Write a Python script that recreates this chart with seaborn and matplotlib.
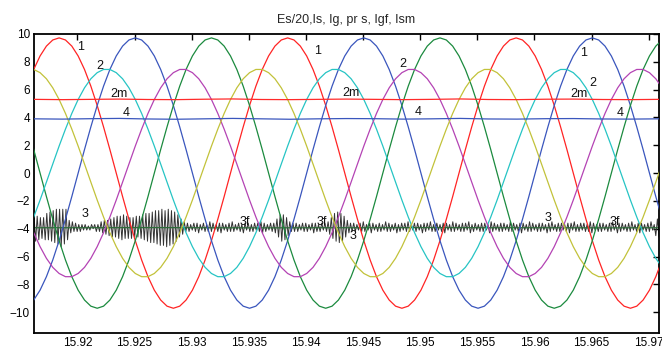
"""Three-phase waveforms with DC levels and a noisy component (MATLAB-style scope plot)."""

import matplotlib

matplotlib.use("Agg")
import matplotlib.pyplot as plt
import numpy as np
import pandas as pd
import seaborn as sns

# ---- data ------------------------------------------------------------------
title = "Es/20,Is, Ig, pr s, Igf, Ism"

# sinusoids are sampled every 10 degrees of a 50 Hz period
wave_t0 = 15.91562
wave_dt = 0.02 / 36

es_a = [6.25, 7.45, 8.42, 9.13, 9.57,
        9.72, 9.57, 9.13, 8.42, 7.45, 6.25, 4.86, 3.32, 1.69, 0.0, -1.69, -3.32, -4.86, -6.25, -7.45, -8.42, -9.13, -9.57,
        -9.72, -9.57, -9.13, -8.42, -7.45, -6.25, -4.86, -3.32, -1.69, 0.0, 1.69, 3.32, 4.86, 6.25, 7.45, 8.42, 9.13, 9.57,
        9.72, 9.57, 9.13, 8.42, 7.45, 6.25, 4.86, 3.32, 1.69, 0.0, -1.69, -3.32, -4.86, -6.25, -7.45, -8.42, -9.13, -9.57,
        -9.72, -9.57, -9.13, -8.42, -7.45, -6.25, -4.86, -3.32, -1.69, 0.0, 1.69, 3.32, 4.86, 6.25, 7.45, 8.42, 9.13, 9.57,
        9.72, 9.57, 9.13, 8.42, 7.45, 6.25, 4.86, 3.32, 1.69, 0.0, -1.69, -3.32, -4.86, -6.25, -7.45, -8.42, -9.13, -9.57,
        -9.72, -9.57, -9.13, -8.42, -7.45, -6.25]
es_b = [-9.57, -9.13, -8.42, -7.45, -6.25, -4.86, -3.32, -1.69, 0.0, 1.69, 3.32, 4.86, 6.25, 7.45, 8.42, 9.13, 9.57,
        9.72, 9.57, 9.13, 8.42, 7.45, 6.25, 4.86, 3.32, 1.69, 0.0, -1.69, -3.32, -4.86, -6.25, -7.45, -8.42, -9.13, -9.57,
        -9.72, -9.57, -9.13, -8.42, -7.45, -6.25, -4.86, -3.32, -1.69, 0.0, 1.69, 3.32, 4.86, 6.25, 7.45, 8.42, 9.13, 9.57,
        9.72, 9.57, 9.13, 8.42, 7.45, 6.25, 4.86, 3.32, 1.69, 0.0, -1.69, -3.32, -4.86, -6.25, -7.45, -8.42, -9.13, -9.57,
        -9.72, -9.57, -9.13, -8.42, -7.45, -6.25, -4.86, -3.32, -1.69, 0.0, 1.69, 3.32, 4.86, 6.25, 7.45, 8.42, 9.13, 9.57,
        9.72, 9.57, 9.13, 8.42, 7.45, 6.25, 4.86, 3.32, 1.69, 0.0, -1.69, -3.32]
es_c = [3.32, 1.69, 0.0, -1.69, -3.32, -4.86, -6.25, -7.45, -8.42, -9.13, -9.57,
        -9.72, -9.57, -9.13, -8.42, -7.45, -6.25, -4.86, -3.32, -1.69, 0.0, 1.69, 3.32, 4.86, 6.25, 7.45, 8.42, 9.13, 9.57,
        9.72, 9.57, 9.13, 8.42, 7.45, 6.25, 4.86, 3.32, 1.69, 0.0, -1.69, -3.32, -4.86, -6.25, -7.45, -8.42, -9.13, -9.57,
        -9.72, -9.57, -9.13, -8.42, -7.45, -6.25, -4.86, -3.32, -1.69, 0.0, 1.69, 3.32, 4.86, 6.25, 7.45, 8.42, 9.13, 9.57,
        9.72, 9.57, 9.13, 8.42, 7.45, 6.25, 4.86, 3.32, 1.69, 0.0, -1.69, -3.32, -4.86, -6.25, -7.45, -8.42, -9.13, -9.57,
        -9.72, -9.57, -9.13, -8.42, -7.45, -6.25, -4.86, -3.32, -1.69, 0.0, 1.69, 3.32, 4.86, 6.25, 7.45, 8.42, 9.13, 9.57]

is_a = [-4.29, -3.16, -1.94, -0.65, 0.65, 1.94, 3.16, 4.29, 5.29, 6.13, 6.78, 7.22, 7.45,
        7.45, 7.22, 6.78, 6.13, 5.29, 4.29, 3.16, 1.94, 0.65, -0.65, -1.94, -3.16, -4.29, -5.29, -6.13, -6.78, -7.22, -7.45,
        -7.45, -7.22, -6.78, -6.13, -5.29, -4.29, -3.16, -1.94, -0.65, 0.65, 1.94, 3.16, 4.29, 5.29, 6.13, 6.78, 7.22, 7.45,
        7.45, 7.22, 6.78, 6.13, 5.29, 4.29, 3.16, 1.94, 0.65, -0.65, -1.94, -3.16, -4.29, -5.29, -6.13, -6.78, -7.22, -7.45,
        -7.45, -7.22, -6.78, -6.13, -5.29, -4.29, -3.16, -1.94, -0.65, 0.65, 1.94, 3.16, 4.29, 5.29, 6.13, 6.78, 7.22, 7.45,
        7.45, 7.22, 6.78, 6.13, 5.29, 4.29, 3.16, 1.94, 0.65, -0.65, -1.94, -3.16, -4.29, -5.29, -6.13, -6.78]
is_b = [-3.16, -4.29, -5.29, -6.13, -6.78, -7.22, -7.45,
        -7.45, -7.22, -6.78, -6.13, -5.29, -4.29, -3.16, -1.94, -0.65, 0.65, 1.94, 3.16, 4.29, 5.29, 6.13, 6.78, 7.22, 7.45,
        7.45, 7.22, 6.78, 6.13, 5.29, 4.29, 3.16, 1.94, 0.65, -0.65, -1.94, -3.16, -4.29, -5.29, -6.13, -6.78, -7.22, -7.45,
        -7.45, -7.22, -6.78, -6.13, -5.29, -4.29, -3.16, -1.94, -0.65, 0.65, 1.94, 3.16, 4.29, 5.29, 6.13, 6.78, 7.22, 7.45,
        7.45, 7.22, 6.78, 6.13, 5.29, 4.29, 3.16, 1.94, 0.65, -0.65, -1.94, -3.16, -4.29, -5.29, -6.13, -6.78, -7.22, -7.45,
        -7.45, -7.22, -6.78, -6.13, -5.29, -4.29, -3.16, -1.94, -0.65, 0.65, 1.94, 3.16, 4.29, 5.29, 6.13, 6.78, 7.22, 7.45,
        7.45, 7.22, 6.78, 6.13]
is_c = [7.45,
        7.45, 7.22, 6.78, 6.13, 5.29, 4.29, 3.16, 1.94, 0.65, -0.65, -1.94, -3.16, -4.29, -5.29, -6.13, -6.78, -7.22, -7.45,
        -7.45, -7.22, -6.78, -6.13, -5.29, -4.29, -3.16, -1.94, -0.65, 0.65, 1.94, 3.16, 4.29, 5.29, 6.13, 6.78, 7.22, 7.45,
        7.45, 7.22, 6.78, 6.13, 5.29, 4.29, 3.16, 1.94, 0.65, -0.65, -1.94, -3.16, -4.29, -5.29, -6.13, -6.78, -7.22, -7.45,
        -7.45, -7.22, -6.78, -6.13, -5.29, -4.29, -3.16, -1.94, -0.65, 0.65, 1.94, 3.16, 4.29, 5.29, 6.13, 6.78, 7.22, 7.45,
        7.45, 7.22, 6.78, 6.13, 5.29, 4.29, 3.16, 1.94, 0.65, -0.65, -1.94, -3.16, -4.29, -5.29, -6.13, -6.78, -7.22, -7.45,
        -7.45, -7.22, -6.78, -6.13, -5.29, -4.29, -3.16, -1.94, -0.65, 0.65]

# nearly flat traces, read every ~2.5 ms
flat_t = (15.9162, 15.9709)
ism_level = [5.30, 5.28, 5.30, 5.32, 5.29, 5.28, 5.31, 5.33, 5.29, 5.28, 5.30, 5.32,
             5.30, 5.28, 5.30, 5.33, 5.29, 5.28, 5.31, 5.32, 5.29, 5.28, 5.30]
ig_level = [3.90, 3.88, 3.91, 3.93, 3.89, 3.87, 3.90, 3.93, 3.90, 3.87, 3.90, 3.92,
            3.91, 3.88, 3.90, 3.93, 3.89, 3.88, 3.91, 3.92, 3.89, 3.88, 3.90]
igf_mean = [-3.93, -3.93, -3.92, -3.93, -3.94, -3.93, -3.93, -3.92, -3.93, -3.93, -3.94, -3.93]

# noisy trace: successive peaks / troughs around -3.9
noise_vals = [
    -3.0, -4.9, -3.1, -4.8, -3.2, -4.7, -3.2, -4.8, -2.9, -4.8, -2.8, -4.9, -2.7, -5.0, -2.6, -5.1, -2.6, -5.3, -2.6, -5.1,
    -2.6, -4.8, -3.4,
    -4.3, -3.5, -4.2, -3.6, -4.2, -3.7, -4.2, -3.7, -4.1, -3.7, -4.1, -3.8, -4.1, -3.7, -4.0, -3.7, -4.2, -3.7, -4.2,
    -3.5, -4.3, -3.4, -4.4, -3.4, -4.5, -3.3, -4.6, -3.2, -4.6, -3.1, -4.7, -3.1, -4.8, -3.0, -4.7, -3.1, -4.7, -3.2, -4.7,
    -3.2, -4.6, -3.1, -4.6, -3.1, -4.7, -3.0, -4.8, -2.9, -4.9, -2.9, -5.0, -2.8, -5.0, -2.7, -5.1, -2.7, -5.2, -2.6, -5.2,
    -2.7, -5.3, -2.6, -5.2, -2.7, -5.1, -2.8, -4.9, -3.0, -4.6, -3.3, -4.4, -3.5,
    -4.2, -3.6, -4.2, -3.7, -4.1, -3.6, -4.2, -3.6, -4.3, -3.7, -4.1, -3.6, -4.2, -3.7, -4.2, -3.5, -4.2, -3.6, -4.1, -3.7,
    -4.2, -3.6, -4.3, -3.6, -4.1, -3.7, -4.2, -3.6, -4.2, -3.5, -4.2, -3.7, -4.1, -3.6, -4.2, -3.7, -4.3, -3.6, -4.1, -3.6,
    -4.2, -3.7, -4.2, -3.6, -4.1, -3.6, -4.2, -3.5, -4.3, -3.6, -4.2, -3.7, -4.1, -3.6, -4.2, -3.6,
    -4.3, -3.3, -4.6, -3.0, -4.9, -3.0, -4.8, -3.2, -4.5, -3.5, -4.2, -3.6, -4.2,
    -3.6, -4.2, -3.7, -4.1, -3.6, -4.2, -3.6, -4.2, -3.7, -4.1, -3.6, -4.3, -3.6, -4.2, -3.7, -4.2, -3.6, -4.1, -3.6, -4.2,
    -3.5,
    -4.4, -3.2, -4.7, -2.9, -4.9, -2.8, -5.0, -2.9, -4.9, -3.1, -4.6, -3.4, -4.3, -3.6, -4.2,
    -3.6, -4.2, -3.7, -4.1, -3.6, -4.2, -3.5, -4.2, -3.7, -4.1, -3.6, -4.3, -3.6, -4.1, -3.7, -4.2, -3.6, -4.2, -3.7, -4.1,
    -3.5, -4.2, -3.6, -4.2, -3.7, -4.1, -3.6, -4.3, -3.7, -4.2, -3.6, -4.1, -3.6, -4.2, -3.5, -4.2, -3.7, -4.1, -3.6, -4.2,
    -3.6, -4.1, -3.7, -4.3, -3.6, -4.2, -3.6, -4.1, -3.5, -4.2, -3.7, -4.2, -3.6, -4.1, -3.7, -4.2, -3.6, -4.3, -3.6, -4.1,
    -3.7, -4.2, -3.5, -4.2, -3.6, -4.1, -3.7, -4.2, -3.6, -4.2, -3.6, -4.1, -3.5, -4.3, -3.7, -4.2, -3.6, -4.1, -3.7, -4.2,
    -3.6, -4.2, -3.6, -4.1, -3.7, -4.3, -3.5, -4.2, -3.6, -4.1, -3.7, -4.2, -3.6, -4.2, -3.6, -4.1, -3.7, -4.2, -3.5, -4.2,
    -3.6, -4.1, -3.7, -4.2, -3.6, -4.3, -3.6, -4.1, -3.7, -4.2, -3.5, -4.2, -3.6, -4.1, -3.7, -4.2, -3.6, -4.2, -3.6, -4.1,
    -3.7, -4.3, -3.6, -4.2, -3.5, -4.1, -3.7, -4.2, -3.6, -4.2, -3.6, -4.1, -3.7, -4.2, -3.6, -4.3, -3.6, -4.1, -3.5, -4.2,
    -3.7, -4.2, -3.6, -4.1, -3.6, -4.2, -3.7, -4.2, -3.5, -4.3, -3.6, -4.1, -3.7, -4.2, -3.6, -4.2, -3.6, -4.1, -3.7, -4.2,
    -3.6, -4.2, -3.5, -4.1, -3.7, -4.3, -3.6, -4.2, -3.6, -4.1, -3.7, -4.2, -3.6, -4.2, -3.5, -4.1, -3.7, -4.2, -3.6, -4.3,
    -3.6, -4.1, -3.7, -4.2, -3.6, -4.2, -3.5, -4.1, -3.7,
    -4.5, -3.3, -4.6,
]
noise_t = (15.9162, 15.9709)

# curve tags written on the plot: (text, time, value)
curve_labels = [
    ("1", 15.92031, 9.09), ("1", 15.94098, 8.80), ("1", 15.96431, 8.66),
    ("2", 15.92192, 7.72), ("2", 15.94848, 7.84), ("2", 15.96512, 6.50),
    ("2m", 15.92364, 5.68), ("2m", 15.94396, 5.73), ("2m", 15.96392, 5.66),
    ("4", 15.92428, 4.34), ("4", 15.94979, 4.37), ("4", 15.96746, 4.34),
    ("3", 15.92067, -2.97), ("3f", 15.93468, -3.55), ("3f", 15.94139, -3.55),
    ("3", 15.94416, -4.51), ("3", 15.96115, -3.26), ("3f", 15.96707, -3.50),
]

x_ticks = [15.92, 15.925, 15.93, 15.935, 15.94, 15.945, 15.95, 15.955, 15.96, 15.965, 15.97]
x_tick_labels = ["15.92", "15.925", "15.93", "15.935", "15.94", "15.945", "15.95", "15.955", "15.96", "15.965", "15.97"]
y_ticks = [-10, -8, -6, -4, -2, 0, 2, 4, 6, 8, 10]

wave_colors = {"es_a": "#ff2424", "es_b": "#3a56bd", "es_c": "#1b8a3e",
               "is_a": "#26c4c4", "is_b": "#b443b4", "is_c": "#c2c23a"}


def main() -> None:
    sns.set_theme(style="white")
    plt.rcParams["font.family"] = ["Liberation Sans", "DejaVu Sans"]

    fig, ax = plt.subplots(figsize=(6.62, 3.51), dpi=100)
    fig.subplots_adjust(left=34 / 662, right=659 / 662, bottom=18 / 351, top=317 / 351)

    # noisy component first so the other traces sit on top of it
    noise = pd.DataFrame({"t": np.linspace(*noise_t, len(noise_vals)), "v": noise_vals})
    sns.lineplot(data=noise, x="t", y="v", color="#333333", linewidth=0.7,
                 estimator=None, sort=False, ax=ax, zorder=1)

    mean = pd.DataFrame({"t": np.linspace(*flat_t, len(igf_mean)), "v": igf_mean})
    sns.lineplot(data=mean, x="t", y="v", color="#2e6b3a", linewidth=0.9,
                 estimator=None, sort=False, ax=ax, zorder=2)

    waves = {"es_a": es_a, "es_b": es_b, "es_c": es_c, "is_a": is_a, "is_b": is_b, "is_c": is_c}
    frames = []
    for name, values in waves.items():
        t = wave_t0 + np.arange(len(values)) * wave_dt
        frames.append(pd.DataFrame({"t": t, "v": values, "curve": name}))
    long = pd.concat(frames, ignore_index=True)
    sns.lineplot(data=long, x="t", y="v", hue="curve", palette=wave_colors, linewidth=0.9,
                 estimator=None, sort=False, legend=False, ax=ax, zorder=3)

    for values, color in [(ism_level, "#ff2a2a"), (ig_level, "#3a56bd")]:
        flat = pd.DataFrame({"t": np.linspace(*flat_t, len(values)), "v": values})
        sns.lineplot(data=flat, x="t", y="v", color=color, linewidth=0.9,
                     estimator=None, sort=False, ax=ax, zorder=4)

    for text, t, v in curve_labels:
        ax.text(t, v, text, fontsize=9, ha="center", va="center", color="#111111", zorder=5)

    ax.set_xlim(15.9162, 15.9709)
    ax.set_ylim(-11.5, 10)
    ax.set_xticks(x_ticks)
    ax.set_xticklabels(x_tick_labels)
    ax.set_yticks(y_ticks)
    ax.set_xlabel("")
    ax.set_ylabel("")
    ax.set_title(title, fontsize=9, pad=8)
    ax.tick_params(direction="in", top=True, right=True, length=4, width=1, labelsize=8.5,
                   colors="black", pad=3)
    for spine in ax.spines.values():
        spine.set_color("black")
        spine.set_linewidth(1.3)

    fig.savefig("out.png", dpi=100)
    plt.close(fig)


if __name__ == "__main__":
    main()
